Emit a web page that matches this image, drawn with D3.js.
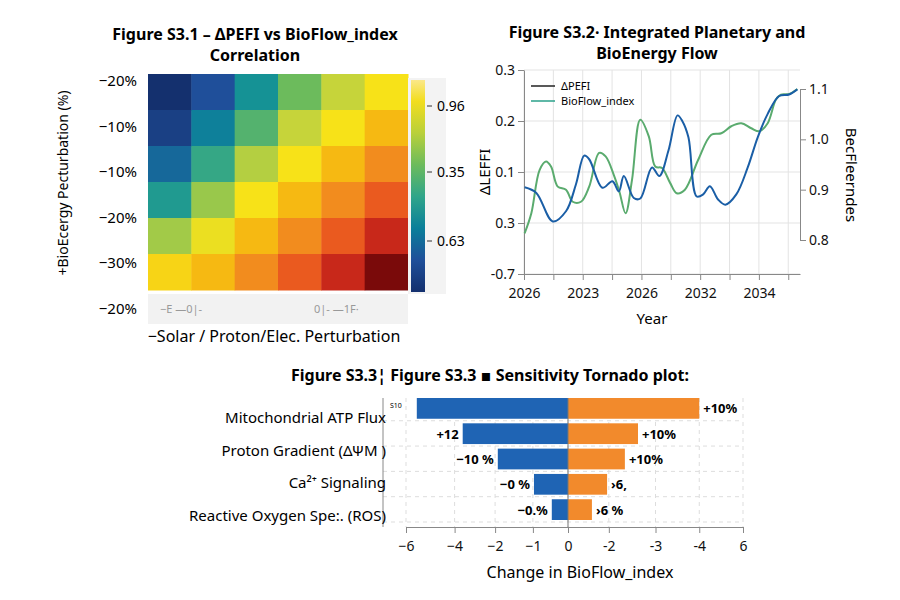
<!DOCTYPE html>
<html>
<head>
<meta charset="utf-8">
<script src="https://cdn.jsdelivr.net/npm/d3@7"></script>
<style>
  body { margin: 0; background: #fff; }
  text { font-family: "Noto Sans", "DejaVu Sans", sans-serif; }
  .ax path, .ax line { stroke: #888; }
  .ax text { font-size: 14px; fill: #111; }
</style>
</head>
<body>
<svg id="fig" width="900" height="600"></svg>
<script>
// ---------- data ----------
const heatValues = [
  [0.00, 0.10, 0.25, 0.42, 0.52, 0.60],
  [0.05, 0.20, 0.38, 0.52, 0.60, 0.66],
  [0.15, 0.33, 0.50, 0.60, 0.66, 0.72],
  [0.28, 0.47, 0.60, 0.66, 0.72, 0.80],
  [0.48, 0.58, 0.66, 0.72, 0.80, 0.88],
  [0.62, 0.66, 0.72, 0.80, 0.88, 1.00]
];
const heatRowLabels = ["−20%", "−10%", "−10%", "−20%", "−30%", "−20%"];
const cbarTickLabels = ["0.96", "0.35", "0.63"];

const pefiX = [0.02,0.42,0.98,1.43,1.77,2.05,2.22,2.67,3.01,3.23,3.40,3.74,3.96,4.36,4.61,4.92,5.23,5.39,5.60,5.88,6.10,6.33,6.61,6.86,7.23,7.62,7.96,8.30,8.69,9.03,9.31];
const pefiY = [0.070,0.059,0.003,0.023,0.076,0.132,0.125,0.069,0.082,0.062,0.092,0.049,0.048,0.109,0.092,0.142,0.211,0.200,0.168,0.052,0.056,0.072,0.046,0.036,0.056,0.109,0.168,0.214,0.249,0.252,0.262];
const bioX = [0.02,0.25,0.53,0.75,0.92,1.15,1.43,1.66,1.94,2.22,2.56,2.78,3.06,3.25,3.46,3.68,3.96,4.25,4.47,4.70,4.98,5.20,5.48,5.93,6.38,6.72,7.06,7.40,7.74,8.02,8.30,8.58,8.75,9.03,9.31];
const bioY = [0.813,0.853,0.939,0.956,0.946,0.906,0.900,0.876,0.876,0.906,0.973,0.966,0.929,0.896,0.853,0.920,1.039,1.006,0.946,0.943,0.913,0.893,0.900,0.959,1.009,1.012,1.026,1.032,1.022,1.016,1.032,1.079,1.089,1.090,1.100];
const yearTicks = [0, 2, 4, 6, 8];
const yearLabels = ["2026", "2023", "2026", "2032", "2034"];
const leftTicks = [-0.1, 0, 0.1, 0.2, 0.3];
const leftLabels = ["-0.7", "0.3", "0.1", "0.2", "0.3"];
const rightTicks = [0.8, 0.9, 1.0, 1.1];

const tornadoLow = [-5.6, -3.9, -2.6, -1.26, -0.6];
const tornadoHigh = [4.5, 2.4, 1.95, 1.34, 0.82];
const tornadoLowLabels = ["", "+12", "−10 %", "−0 %", "−0.%"];
const tornadoHighLabels = ["+10%", "+10%", "+10%", "›6,", "›6 %"];
const tornadoCats = ["Mitochondrial ATP Flux", "Proton Gradient  (ΔΨM )", "Ca²⁺ Signaling", "Reactive Oxygen Spe:. (ROS)"];
const tornadoTicks = [-6, -4.2, -2.7, -1.3, 0, 1.4, 3.0, 4.5, 6];
const tornadoTickLabels = ["−6", "−4", "−2", "−1", "0", "-2", "-3", "-4", "6"];

const svg = d3.select("#fig");

function title(lines, cx, y0, size) {
  lines.forEach((t, i) => svg.append("text").attr("x", cx).attr("y", y0 + i * 21)
    .attr("text-anchor", "middle").attr("font-size", size).attr("font-weight", "bold").text(t));
}

// ---------- S3.1 heatmap ----------
title(["Figure S3.1 – ΔPEFI vs BioFlow_index", "Correlation"], 255, 40, 16);

const hx = d3.scaleBand().domain(d3.range(6)).range([148, 408]);
const hy = d3.scaleBand().domain(d3.range(6)).range([74, 290]);
const heatColor = d3.scaleLinear()
  .domain([0, 0.1, 0.22, 0.32, 0.42, 0.52, 0.6, 0.66, 0.72, 0.8, 0.88, 1])
  .range(["#14306e","#1f4f9a","#0a8a9a","#2fa58a","#6cbb5c","#c6d43a","#f7e218","#f6b912","#f28c1e","#ea5a1f","#c8281a","#7a0a0a"]);

heatValues.forEach((row, r) => row.forEach((v, c) => {
  svg.append("rect").attr("x", hx(c)).attr("y", hy(r))
    .attr("width", hx.bandwidth() + 0.5).attr("height", hy.bandwidth() + 0.5)
    .attr("fill", heatColor(v));
}));

const rowLab = d3.scalePoint().domain(d3.range(6)).range([80, 308]);
heatRowLabels.forEach((t, i) => svg.append("text").attr("x", 137).attr("y", rowLab(i) + 6)
  .attr("text-anchor", "end").attr("font-size", 15).text(t));

svg.append("rect").attr("x", 148).attr("y", 294).attr("width", 260).attr("height", 30).attr("fill", "#f2f2f2");
[["−E —0|-", 160], ["0|- —1F·", 314]].forEach(([t, x]) => svg.append("text").attr("x", x).attr("y", 313)
  .attr("font-size", 11).attr("fill", "#999").text(t));
svg.append("text").attr("x", 274).attr("y", 342).attr("text-anchor", "middle").attr("font-size", 16)
  .text("−Solar / Proton/Elec. Perturbation");
svg.append("text").attr("transform", "translate(68,183) rotate(-90)").attr("text-anchor", "middle")
  .attr("font-size", 14).text("+BioEcergy Pecturbation (%)");

// colorbar
const defs = svg.append("defs");
const grad = defs.append("linearGradient").attr("id", "cbar").attr("x1", 0).attr("x2", 0).attr("y1", 1).attr("y2", 0);
[0, 0.15, 0.3, 0.45, 0.6, 0.75, 0.9, 1].forEach((o, i) => grad.append("stop").attr("offset", o)
  .attr("stop-color", ["#14306e","#1f4f9a","#0a7f9a","#2fa58a","#6cbb5c","#b9d03a","#f2dd1e","#fbe88a"][i]));
svg.append("rect").attr("x", 408).attr("y", 78).attr("width", 38).attr("height", 216).attr("fill", "#f3f3f3");
svg.append("rect").attr("x", 411).attr("y", 80).attr("width", 14).attr("height", 212).attr("fill", "url(#cbar)");
const cbY = [106, 172, 241];
cbarTickLabels.forEach((t, i) => {
  svg.append("line").attr("x1", 427).attr("x2", 432).attr("y1", cbY[i]).attr("y2", cbY[i]).attr("stroke", "#333");
  svg.append("text").attr("x", 437).attr("y", cbY[i] + 5).attr("font-size", 14).text(t);
});

// ---------- S3.2 lines ----------
title(["Figure S3.2· Integrated Planetary and", "BioEnergy Flow"], 657, 38, 16);
const lx = d3.scaleLinear().domain([0, 9.4]).range([524, 800]);
const ly = d3.scaleLinear().domain([-0.1, 0.3]).range([274, 70]);
const ry = d3.scaleLinear().domain([0.8, 1.1]).range([240, 89]);

const gGrid = svg.append("g").attr("stroke", "#e3e3e3");
d3.range(0, 10).forEach(v => gGrid.append("line").attr("x1", lx(v)).attr("x2", lx(v)).attr("y1", 70).attr("y2", 274));
leftTicks.forEach(v => gGrid.append("line").attr("x1", 524).attr("x2", 800).attr("y1", ly(v)).attr("y2", ly(v)));

svg.append("g").attr("class", "ax").attr("transform", "translate(0,274)")
  .call(d3.axisBottom(lx).tickValues(d3.range(0, 10)).tickFormat(d => {
    const k = yearTicks.indexOf(d); return k < 0 ? "" : yearLabels[k];
  }).tickSizeOuter(0))
  .selectAll("text").attr("font-size", 16).attr("dy", "1.1em");
svg.append("g").attr("class", "ax").attr("transform", "translate(524,0)")
  .call(d3.axisLeft(ly).tickValues(leftTicks).tickFormat((d, i) => leftLabels[i]).tickSizeOuter(0))
  .selectAll("text").attr("font-size", 16);
svg.append("g").attr("class", "ax").attr("transform", "translate(800,0)")
  .call(d3.axisRight(ry).tickValues(rightTicks).tickFormat(d3.format(".1f")).tickSizeOuter(0))
  .selectAll("text").attr("font-size", 16);

const pefiLine = d3.line().x((d, i) => lx(pefiX[i])).y(d => ly(d)).curve(d3.curveCatmullRom);
const bioLine = d3.line().x((d, i) => lx(bioX[i])).y(d => ry(d)).curve(d3.curveCatmullRom);
svg.append("path").attr("d", bioLine(bioY)).attr("fill", "none").attr("stroke", "#5aab6e").attr("stroke-width", 2);
svg.append("path").attr("d", pefiLine(pefiY)).attr("fill", "none").attr("stroke", "#1a5ea6").attr("stroke-width", 2);

[["ΔPEFI", "#222"], ["BioFlow_index", "#2aa08a"]].forEach(([t, c], i) => {
  svg.append("line").attr("x1", 531).attr("x2", 555).attr("y1", 86 + i * 15).attr("y2", 86 + i * 15).attr("stroke", c).attr("stroke-width", 1.5);
  svg.append("text").attr("x", 561).attr("y", 90 + i * 15).attr("font-size", 11).text(t);
});
svg.append("text").attr("x", 652).attr("y", 324).attr("text-anchor", "middle").attr("font-size", 15).text("Year");
svg.append("text").attr("transform", "translate(490,172) rotate(-90)").attr("text-anchor", "middle").attr("font-size", 15).text("ΔLEFFI");
svg.append("text").attr("transform", "translate(846,175) rotate(90)").attr("text-anchor", "middle").attr("font-size", 15).text("BecFleerndes");

// ---------- S3.3 tornado ----------
svg.append("text").attr("x", 490).attr("y", 381).attr("text-anchor", "middle").attr("font-size", 16)
  .attr("font-weight", "bold").text("Figure S3.3¦ Figure S3.3 ▪ Sensitivity Tornado plot:");
const tx = d3.scaleLinear().domain([-6, 0, 6]).range([406, 568, 743]);
const ty = d3.scaleBand().domain(d3.range(5)).range([398, 520]).paddingInner(0.18);
const catY = d3.scalePoint().domain(d3.range(4)).range([418, 516]);

const tg = svg.append("g").attr("stroke", "#ddd").attr("stroke-dasharray", "4,4");
d3.range(5).forEach(i => tg.append("line").attr("x1", 383).attr("x2", 743)
  .attr("y1", ty(i) + ty.bandwidth() + 2).attr("y2", ty(i) + ty.bandwidth() + 2));
tornadoTicks.forEach(v => tg.append("line").attr("x1", tx(v)).attr("x2", tx(v)).attr("y1", 398).attr("y2", 527));

svg.append("g").attr("class", "ax").attr("transform", "translate(0,527)")
  .call(d3.axisBottom(tx).tickValues(tornadoTicks).tickFormat((d, i) => tornadoTickLabels[i]).tickSizeOuter(0))
  .selectAll("text").attr("font-size", 16).attr("dy", "1.1em");
svg.append("line").attr("x1", 383).attr("x2", 383).attr("y1", 398).attr("y2", 527).attr("stroke", "#888");

tornadoLow.forEach((v, i) => {
  svg.append("rect").attr("x", tx(v)).attr("y", ty(i)).attr("width", tx(0) - tx(v))
    .attr("height", ty.bandwidth()).attr("fill", "#1f64b4");
  svg.append("rect").attr("x", tx(0)).attr("y", ty(i)).attr("width", tx(tornadoHigh[i]) - tx(0))
    .attr("height", ty.bandwidth()).attr("fill", "#f28a2c");
  svg.append("text").attr("x", tx(v) - 4).attr("y", ty(i) + ty.bandwidth() / 2 + 5)
    .attr("text-anchor", "end").attr("font-size", 13).attr("font-weight", "bold").text(tornadoLowLabels[i]);
  svg.append("text").attr("x", tx(tornadoHigh[i]) + 4).attr("y", ty(i) + ty.bandwidth() / 2 + 5)
    .attr("font-size", 13).attr("font-weight", "bold").text(tornadoHighLabels[i]);
});
svg.append("line").attr("x1", tx(0)).attr("x2", tx(0)).attr("y1", 398).attr("y2", 527).attr("stroke", "#777");
svg.append("text").attr("x", 390).attr("y", 408).attr("font-size", 7).text("S10");

tornadoCats.forEach((t, i) => svg.append("text").attr("x", 386).attr("y", catY(i) + 5)
  .attr("text-anchor", "end").attr("font-size", 15).text(t));
svg.append("text").attr("x", 580).attr("y", 578).attr("text-anchor", "middle").attr("font-size", 16).text("Change in BioFlow_index");
</script>
</body>
</html>
